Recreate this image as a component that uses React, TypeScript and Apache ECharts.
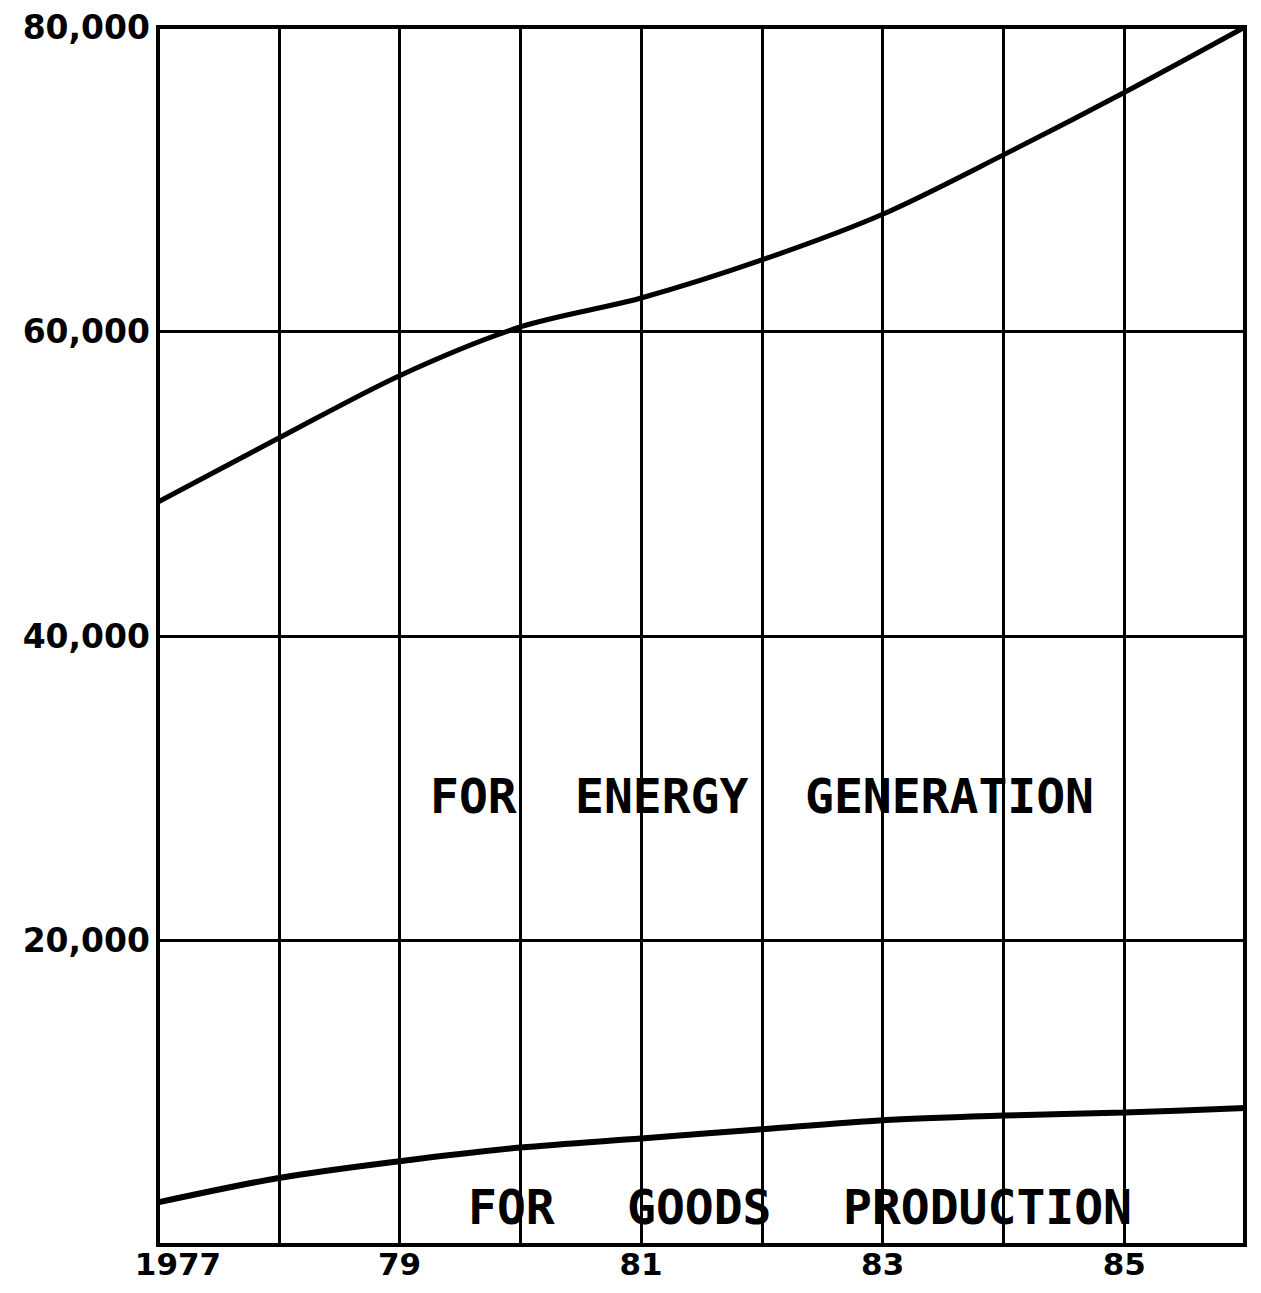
import React, { useEffect, useRef } from "react";
import * as echarts from "echarts";

const years = ["1977", "78", "79", "80", "81", "82", "83", "84", "85", "86"];
const energyGeneration = [48800, 53000, 57100, 60300, 62200, 64700, 67700, 71600, 75700, 80000];
const goodsProduction = [2800, 4400, 5500, 6400, 7000, 7600, 8200, 8500, 8700, 9000];
const yTicks = [0, 20000, 40000, 60000, 80000];
const energyWords = ["FOR", "ENERGY", "GENERATION"];
const goodsWords = ["FOR", "GOODS", "PRODUCTION"];

export default function App() {
  const ref = useRef<HTMLDivElement>(null);
  useEffect(() => {
    if (!ref.current) return;
    const chart = echarts.init(ref.current, null, { renderer: "svg" });
    const wordStyle = {
      fontFamily: "DejaVu Sans Mono",
      fontWeight: "bold",
      fontSize: 48,
      fill: "#000",
      verticalAlign: "middle",
      align: "left",
    };
    const energyX = [422, 567, 797];
    const goodsX = [460, 619, 835];
    const graphics: any[] = [];
    energyWords.forEach((w, i) =>
      graphics.push({ type: "text", left: energyX[i], top: 764, style: { ...wordStyle, text: w } })
    );
    goodsWords.forEach((w, i) =>
      graphics.push({ type: "text", left: goodsX[i], top: 1175, style: { ...wordStyle, text: w } })
    );
    chart.setOption({
      animation: false,
      backgroundColor: "#fff",
      grid: {
        left: 150,
        top: 19,
        right: 8,
        bottom: 40,
        show: true,
        borderColor: "#000",
        borderWidth: 4,
        backgroundColor: "transparent",
      },
      xAxis: {
        type: "category",
        data: years,
        boundaryGap: false,
        axisLine: { show: true, lineStyle: { color: "#000", width: 4 } },
        axisTick: { show: false },
        axisLabel: {
          interval: 1,
          margin: 4,
          color: "#000",
          fontFamily: "DejaVu Sans",
          fontWeight: "bold",
          fontSize: 31,
          lineHeight: 30,
          formatter: (v: string, i: number) => (i === 0 ? "{first|" + v + "}" : v),
          rich: {
            first: {
              fontFamily: "DejaVu Sans",
              fontWeight: "bold",
              fontSize: 31,
              lineHeight: 30,
              color: "#000",
              padding: [0, 0, 0, 40],
            },
          },
        },
        splitLine: { show: true, interval: 0, lineStyle: { color: "#000", width: 3 } },
      },
      yAxis: {
        type: "value",
        min: yTicks[0],
        max: yTicks[yTicks.length - 1],
        interval: 20000,
        axisLine: { show: true, lineStyle: { color: "#000", width: 4 } },
        axisTick: { show: false },
        axisLabel: {
          margin: 8,
          color: "#000",
          fontFamily: "DejaVu Sans",
          fontWeight: "bold",
          fontSize: 33,
          formatter: (v: number) => (v === 0 ? "" : v.toLocaleString("en-US")),
        },
        splitLine: { show: true, lineStyle: { color: "#000", width: 3 } },
      },
      series: [
        {
          name: "For energy generation",
          type: "line",
          data: energyGeneration,
          smooth: 0.3,
          symbol: "none",
          lineStyle: { color: "#000", width: 5 },
        },
        {
          name: "For goods production",
          type: "line",
          data: goodsProduction,
          smooth: 0.3,
          symbol: "none",
          lineStyle: { color: "#000", width: 6 },
        },
      ],
      graphic: graphics,
    });
    return () => chart.dispose();
  }, []);
  return <div ref={ref} style={{ width: 1245, height: 1277 }} />;
}
